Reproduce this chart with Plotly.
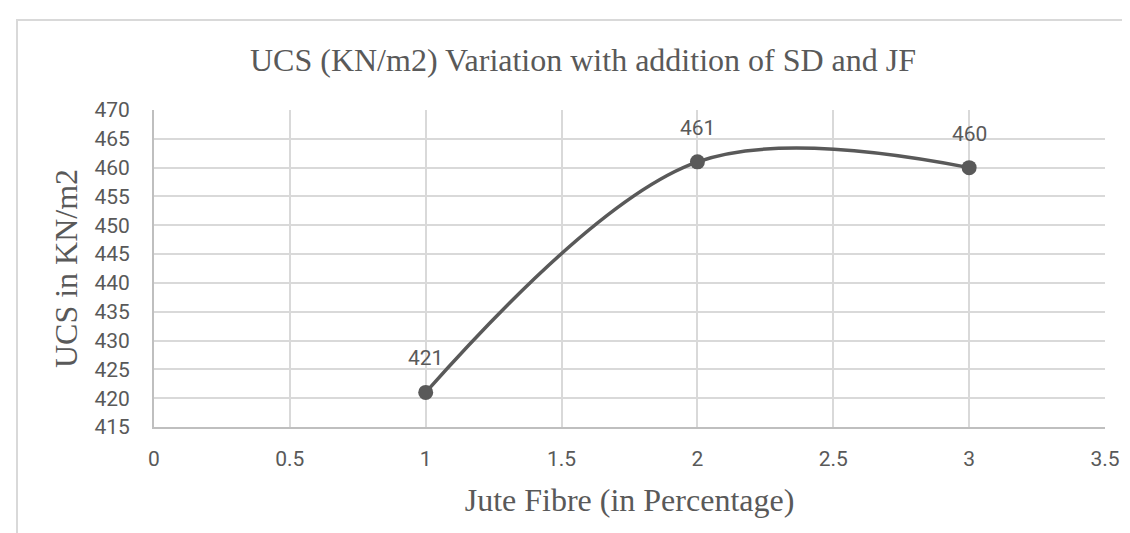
import plotly.graph_objects as go

jute_fibre = [1, 2, 3]
ucs_values = [421, 461, 460]
x_ticks = [0, 0.5, 1, 1.5, 2, 2.5, 3, 3.5]
y_ticks = [415, 420, 425, 430, 435, 440, 445, 450, 455, 460, 465, 470]

GRAY = "#595959"
GRID = "#d9d9d9"

fig = go.Figure()
fig.add_trace(go.Scatter(
    x=jute_fibre, y=ucs_values,
    mode="lines+markers",
    line=dict(color=GRAY, width=3.5, shape="spline", smoothing=1),
    marker=dict(color=GRAY, size=15),
    showlegend=False, hoverinfo="skip",
))

for xv, yv in zip(jute_fibre, ucs_values):
    fig.add_annotation(x=xv, y=yv, text=str(yv), showarrow=False,
                       yshift=34, font=dict(family="Roboto", size=21, color=GRAY))

W, H = 1130, 533
L, R, T, B = 146, 33, 102, 114
pw, ph = W - L - R, H - T - B

def px_x(p):
    return (p - L) / pw

def px_y(p):
    return (H - B - p) / ph

fig.add_shape(type="rect", xref="paper", yref="paper",
              x0=px_x(9), x1=px_x(1140), y0=px_y(545), y1=px_y(12),
              line=dict(color=GRID, width=2), fillcolor="rgba(0,0,0,0)", layer="below")

fig.update_layout(
    width=W, height=H,
    margin=dict(l=L, r=R, t=T, b=B),
    paper_bgcolor="white", plot_bgcolor="white",
    title=dict(text="UCS (KN/m2) Variation with addition of SD and JF",
               x=575 / W, xanchor="center", y=1 - 52 / H, yanchor="middle",
               font=dict(family="Liberation Serif", size=32, color=GRAY)),
    xaxis=dict(range=[0, 3.5], tickvals=x_ticks, ticktext=[str(v) for v in x_ticks],
               showgrid=True, gridcolor=GRID, gridwidth=1.5,
               showline=True, linecolor="#bfbfbf", linewidth=2, mirror=False,
               zeroline=False, ticks="", ticklabelstandoff=12,
               tickfont=dict(family="Roboto", size=21, color=GRAY),
               title=dict(text="Jute Fibre (in Percentage)", standoff=18,
                          font=dict(family="Liberation Serif", size=32, color=GRAY))),
    yaxis=dict(range=[415, 470], tickvals=y_ticks,
               showgrid=True, gridcolor=GRID, gridwidth=1.5,
               showline=True, linecolor="#bfbfbf", linewidth=2, mirror=False,
               zeroline=False, ticks="", ticklabelstandoff=18,
               tickfont=dict(family="Roboto", size=21, color=GRAY),
               title=dict(text="UCS in KN/m2", standoff=7,
                          font=dict(family="Liberation Serif", size=32, color=GRAY))),
)

fig.write_html("out.html")
